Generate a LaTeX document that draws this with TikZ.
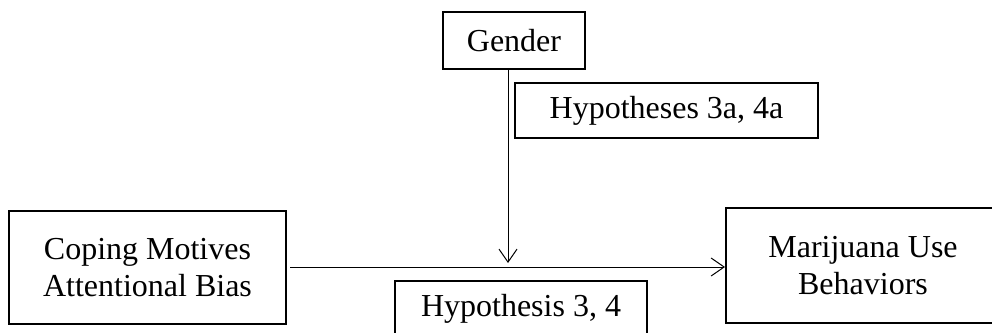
\documentclass[tikz,border=0pt]{standalone}
\usepackage{fontspec}
\setmainfont{Liberation Serif}
\usetikzlibrary{arrows.meta}
\begin{document}
\begin{tikzpicture}[x=1pt,y=-1pt,
  box/.style={draw,line width=2pt,inner sep=0pt,align=center,
    font=\fontsize{32}{37}\selectfont},
  conn/.style={line width=1pt,-{Straight Barb[length=13pt,width=18pt,line width=1pt]}}]
\useasboundingbox (0,0) rectangle (992,332);
\node[box,minimum width=142pt,minimum height=57pt] (gender) at (514,40.5) {Gender};
\node[box,minimum width=303pt,minimum height=55pt] (h3a) at (666.5,110.5) {Hypotheses 3a, 4a};
\node[box,minimum width=277pt,minimum height=113pt] (coping) at (147.5,267.5) {Coping Motives\\Attentional Bias};
\node[box,minimum width=274pt,minimum height=115pt] (mj) at (863,265.5) {Marijuana Use\\Behaviors};
\node[box,minimum width=252pt,minimum height=55pt] (h34) at (521,308.5) {Hypothesis 3, 4};
\coordinate (gs) at (508,70);
\coordinate (mid) at (508,263);
\coordinate (cs) at (290,267);
\coordinate (me) at (725,267);
\draw[conn] (gs) -- (mid);
\draw[conn] (cs) -- (me);
\end{tikzpicture}
\end{document}
